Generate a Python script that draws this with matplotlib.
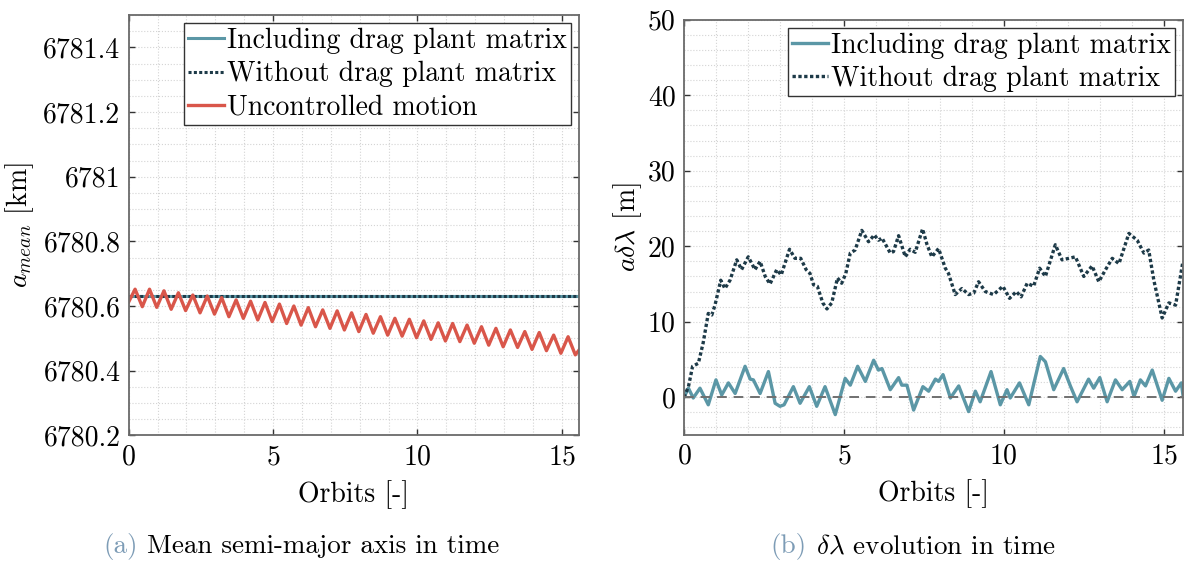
import matplotlib
matplotlib.use('Agg')
import matplotlib.pyplot as plt
from matplotlib.ticker import MultipleLocator, FuncFormatter

plt.rcParams['font.family'] = 'serif'
plt.rcParams['font.serif'] = ['cmr10']
plt.rcParams['mathtext.fontset'] = 'cm'
plt.rcParams['axes.formatter.use_mathtext'] = True
plt.rcParams['font.size'] = 20

# --- (a) mean semi-major axis [km] ---
t_ctrl = [0.0, 15.6]
a_incl = [6780.632, 6780.632]
a_wo = [6780.632, 6780.632]

# uncontrolled motion: start, then alternating crest / trough, then end
t_unc = [0.0,
         0.22, 0.47, 0.72, 0.97, 1.22, 1.47, 1.72, 1.97, 2.22, 2.47,
         2.72, 2.97, 3.22, 3.47, 3.72, 3.97, 4.22, 4.47, 4.72, 4.97,
         5.22, 5.47, 5.72, 5.97, 6.22, 6.47, 6.72, 6.97, 7.22, 7.47,
         7.72, 7.97, 8.22, 8.47, 8.72, 8.97, 9.22, 9.47, 9.72, 9.97,
         10.22, 10.47, 10.72, 10.97, 11.22, 11.47, 11.72, 11.97, 12.22, 12.47,
         12.72, 12.97, 13.22, 13.47, 13.72, 13.97, 14.22, 14.47, 14.72, 14.97,
         15.22, 15.47,
         15.6]
a_unc = [6780.613,
         6780.652, 6780.598, 6780.652, 6780.596, 6780.647, 6780.590, 6780.641, 6780.586,
         6780.634, 6780.579, 6780.631, 6780.575, 6780.626, 6780.567, 6780.619, 6780.562,
         6780.615, 6780.557, 6780.611, 6780.552, 6780.606, 6780.546, 6780.600, 6780.541,
         6780.595, 6780.536, 6780.588, 6780.531, 6780.585, 6780.526, 6780.579, 6780.521,
         6780.574, 6780.516, 6780.567, 6780.510, 6780.562, 6780.507, 6780.559, 6780.502,
         6780.554, 6780.497, 6780.548, 6780.492, 6780.546, 6780.490, 6780.541, 6780.485,
         6780.536, 6780.479, 6780.531, 6780.474, 6780.526, 6780.472, 6780.521, 6780.466,
         6780.518, 6780.462, 6780.510, 6780.454, 6780.505, 6780.449,
         6780.464]

# --- (b) a*dlambda [m] ---
t_wo = [0.0, 0.14, 0.27, 0.45, 0.6, 0.76, 0.87, 0.97, 1.15, 1.28, 1.44, 1.65, 1.8,
        2.01, 2.22, 2.38, 2.54, 2.69, 2.9, 3.04, 3.3, 3.47, 3.65, 3.82, 3.94,
        4.05, 4.17, 4.34, 4.47, 4.62, 4.8, 4.93, 5.06, 5.2, 5.35, 5.56, 5.77,
        5.95, 6.08, 6.19, 6.45, 6.55, 6.71, 6.92, 7.07, 7.23, 7.46, 7.6, 7.75,
        7.96, 8.17, 8.27, 8.48, 8.69, 8.9, 9.06, 9.21, 9.42, 9.68, 9.97, 10.18,
        10.39, 10.54, 10.73, 10.93, 11.12, 11.3, 11.61, 11.82, 12.03, 12.24,
        12.5, 12.76, 12.97, 13.18, 13.39, 13.6, 13.91, 14.17, 14.38, 14.53,
        14.69, 14.95, 15.16, 15.37, 15.6]
dl_wo = [0.0, 1.4, 4.1, 4.5, 7.2, 11.1, 10.9, 12.2, 15.5, 14.4, 15.5, 18.2, 16.9,
         18.6, 16.9, 18.0, 16.0, 15.0, 16.9, 16.2, 19.6, 18.4, 18.4, 16.9, 16.4,
         14.9, 14.7, 12.5, 11.7, 12.5, 15.8, 15.1, 16.4, 19.1, 19.5, 22.1, 20.6,
         21.5, 20.8, 21.1, 19.1, 19.3, 21.4, 18.6, 19.6, 19.2, 22.3, 20.2, 18.6,
         19.7, 17.1, 16.4, 13.6, 14.4, 13.6, 13.8, 15.3, 14.0, 13.6, 14.7, 13.1,
         14.0, 13.3, 15.1, 14.7, 17.1, 16.0, 20.2, 18.2, 18.4, 18.6,
         16.0, 17.4, 15.3, 16.9, 18.4, 17.7, 21.7, 20.8, 19.1, 19.5,
         15.5, 10.5, 12.5, 12.2, 18.0]

t_in = [0.0, 0.14, 0.29, 0.5, 0.76, 1.0, 1.18, 1.39, 1.6, 1.91, 2.07, 2.17, 2.38,
        2.64, 2.85, 3.0, 3.13, 3.42, 3.63, 3.92, 4.15, 4.41, 4.73, 5.04, 5.2,
        5.43, 5.67, 5.93, 6.08, 6.19, 6.45, 6.71, 6.81, 6.97, 7.18, 7.47, 7.65,
        7.86, 7.96, 8.1, 8.33, 8.59, 8.9, 9.11, 9.26, 9.6, 9.89, 10.1, 10.2,
        10.49, 10.78, 11.14, 11.3, 11.56, 11.87, 12.08, 12.29, 12.65, 12.81,
        13.0, 13.23, 13.49, 13.7, 13.94, 14.07, 14.27, 14.43, 14.64, 14.95,
        15.16, 15.37, 15.55, 15.6]
dl_in = [0.0, 1.2, -0.1, 1.2, -1.0, 2.3, 0.3, 1.9, 0.5, 4.1, 2.4, 2.3, 0.5,
         3.4, -0.8, -1.2, -1.0, 1.4, -0.8, 1.4, -1.2, 1.4, -2.3, 2.5, 1.6,
         4.1, 2.1, 4.9, 3.6, 3.8, 1.0, 2.6, 1.6, 1.6, -1.7, 1.4, 0.8,
         2.4, 2.1, 3.0, -0.1, 1.5, -1.9, 0.8, -0.6, 3.4, -1.0, 1.0, -0.1,
         1.9, -1.0, 5.4, 4.7, 1.0, 3.8, 1.5, -0.6, 2.4, 1.2,
         2.6, -0.6, 2.3, 1.0, 2.1, 0.1, 2.3, 1.5, 3.6, -0.4,
         2.5, 0.8, 1.9, 0.3]

c_incl = '#5b97a6'
c_wo = '#1d3a48'
c_unc = '#d9564a'
c_grid = '#d4d4d4'
c_spine = '#6a6a6a'
dotted = (0, (1.0, 0.75))


def style_axes(ax, xmax, ylim, ymaj, ymin):
    ax.set_xlim(0, xmax)
    ax.set_ylim(*ylim)
    ax.xaxis.set_major_locator(MultipleLocator(5))
    ax.xaxis.set_minor_locator(MultipleLocator(1))
    ax.yaxis.set_major_locator(MultipleLocator(ymaj))
    ax.yaxis.set_minor_locator(MultipleLocator(ymin))
    ax.grid(which='both', linestyle=':', color=c_grid, linewidth=0.8)
    ax.set_axisbelow(True)
    ax.tick_params(which='major', direction='in', length=4, width=1,
                   top=True, right=True, pad=6, color='#333333')
    ax.tick_params(which='minor', length=0)
    for s in ax.spines.values():
        s.set_color(c_spine)
        s.set_linewidth(1.3)
    ax.set_xlabel('Orbits [-]', labelpad=7)


def add_legend(ax):
    leg = ax.legend(loc='upper right', fancybox=False, framealpha=1, edgecolor='#333333',
                    handlelength=1.3, handletextpad=0.1, borderpad=0.15,
                    labelspacing=0.26, borderaxespad=0.3, fontsize=20)
    leg.get_frame().set_linewidth(1.0)


def caption(x, tag, text):
    # coloured tag, caption text glued right after it
    lab = fig.text(x, 0.028, tag, color='#7d9cb6', fontsize=19.5, va='center')
    fig.add_artist(plt.Annotation(' ' + text, xy=(1, 0.5), xycoords=lab,
                                  va='center', fontsize=19.5))


fig = plt.figure(figsize=(11.92, 5.62), dpi=100)

ax1 = fig.add_axes([0.1080, 0.2253, 0.3778, 0.7480])
ax1.plot(t_ctrl, a_incl, color=c_incl, lw=2.2, label='Including drag plant matrix')
ax1.plot(t_ctrl, a_wo, color=c_wo, lw=2.2, ls=dotted, label='Without drag plant matrix')
ax1.plot(t_unc, a_unc, color=c_unc, lw=2.4, solid_joinstyle='round',
         label='Uncontrolled motion')
style_axes(ax1, 15.6, (6780.2, 6781.5), 0.2, 0.05)
ax1.yaxis.set_major_formatter(FuncFormatter(lambda v, p: f'{v:.1f}'.rstrip('0').rstrip('.')))
ax1.set_ylabel(r'$a_{mean}$ [km]', labelpad=5)
add_legend(ax1)

ax2 = fig.add_axes([0.5738, 0.2260, 0.4186, 0.7388])
ax2.plot(t_in, dl_in, color=c_incl, lw=2.4, solid_joinstyle='round',
         label='Including drag plant matrix')
ax2.plot(t_wo, dl_wo, color=c_wo, lw=2.4, ls=dotted, label='Without drag plant matrix')
ax2.axhline(0, color='#707070', lw=1.4, ls=(0, (5, 3.5)), zorder=3)
style_axes(ax2, 15.6, (-5, 50), 10, 2)
ax2.yaxis.set_major_formatter(FuncFormatter(lambda v, p: f'{v:g}'))
ax2.set_ylabel(r'$a\delta\lambda$ [m]', labelpad=3)
add_legend(ax2)

# sub-captions
caption(0.0865, '(a)', 'Mean semi-major axis in time')
caption(0.6465, '(b)', r'$\delta\lambda$ evolution in time')

fig.savefig('out.png', dpi=100)
